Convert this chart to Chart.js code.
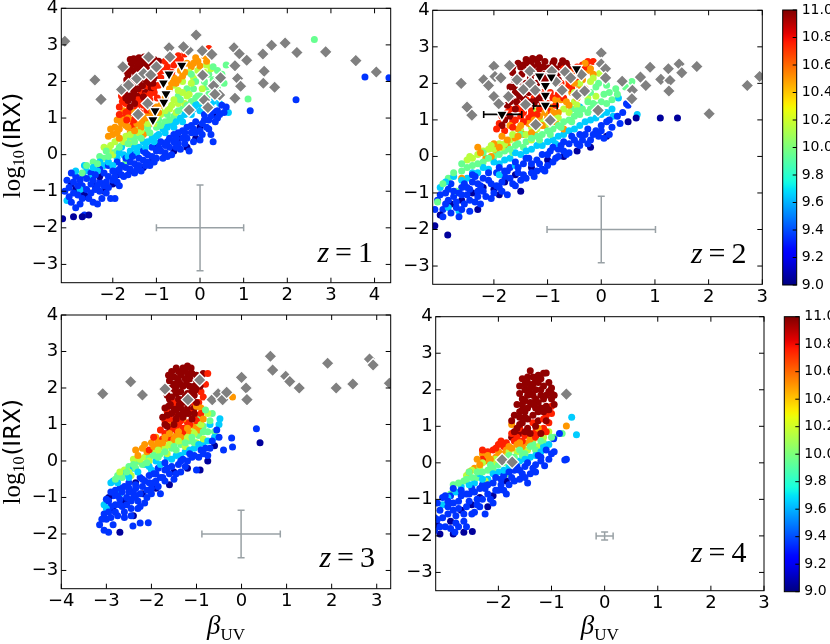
<!DOCTYPE html>
<html>
<head>
<meta charset="utf-8">
<script src="https://cdn.jsdelivr.net/npm/chart.js@4.4.1/dist/chart.umd.min.js"></script>
<style>
  body { margin: 0; background: #fff; }
  #wrap { position: relative; width: 830px; height: 644px; }
  #wrap canvas { position: absolute; left: 0; top: 0; }
</style>
</head>
<body>
<div id="wrap">
  <canvas id="p1" width="830" height="644"></canvas>
  <canvas id="p2" width="830" height="644"></canvas>
  <canvas id="p3" width="830" height="644"></canvas>
  <canvas id="p4" width="830" height="644"></canvas>
  <canvas id="cb1" width="830" height="644"></canvas>
  <canvas id="cb2" width="830" height="644"></canvas>
</div>
<script>
// stellar mass of each colour group (log M*), low to high
const massLevels = [9.05, 9.35, 9.65, 9.95, 10.15, 10.5, 10.75, 10.97];

// tick labels
const yTicks = [-3, -2, -1, 0, 1, 2, 3, 4];
const xTicksZ1 = [-2, -1, 0, 1, 2, 3, 4];
const xTicksZ2 = [-2, -1, 0, 1, 2, 3];
const xTicksZ3 = [-4, -3, -2, -1, 0, 1, 2, 3];
const xTicksZ4 = [-2, -1, 0, 1, 2, 3];
const cbTicks = [9.0, 9.2, 9.4, 9.6, 9.8, 10.0, 10.2, 10.4, 10.6, 10.8, 11.0];

// simulated galaxies [beta, log IRX], one list per mass group
const galZ1 = [
  [[-3.15,-1.75],[-2.95,-0.8],[-2.85,-0.95],[-2.75,-1.0],[-2.6,-1.15],[-2.9,-1.7],[-2.65,-1.1],[-2.4,-0.85],[-2.2,-1.0],[-1.9,-0.55],[-1.6,-0.45],[-1.3,-0.35],[-1.1,-0.15],[-0.8,0.0],[-0.6,0.1],[-0.3,0.2],[0.0,0.75],[-0.1,0.45],[-2.3,-0.6],[-1.0,0.3],[-0.5,0.45],[0.3,1.1],[-2.0,-0.8],[-2.55,-1.65],[-2.7,-1.7]],
  [[-3.1,-1.0],[-3.05,-0.7],[-3.0,-0.9],[-2.9,-0.75],[-2.9,-1.05],[-2.85,-1.45],[-2.85,-0.6],[-2.7,-0.55],[-2.7,-0.85],[-2.7,-1.2],[-2.65,-1.65],[-2.5,-0.5],[-2.5,-0.8],[-2.5,-1.05],[-2.45,-1.3],[-2.3,-0.4],[-2.3,-0.75],[-2.3,-1.0],[-2.35,-1.35],[-2.25,-1.2],[-2.1,-0.3],[-2.1,-0.6],[-2.1,-0.9],[-2.05,-1.2],[-1.9,-0.2],[-1.9,-0.45],[-1.9,-0.75],[-1.95,-1.2],[-1.7,-0.1],[-1.7,-0.35],[-1.75,-0.6],[-1.5,0.0],[-1.5,-0.25],[-1.5,-0.5],[-1.3,0.1],[-1.3,-0.15],[-1.35,-0.45],[-1.1,0.2],[-1.1,-0.05],[-1.15,-0.3],[-0.9,0.35],[-0.9,0.1],[-0.85,-0.1],[-0.7,0.45],[-0.7,0.2],[-0.65,0.0],[-0.5,0.6],[-0.5,0.3],[-0.45,0.15],[-0.3,0.75],[-0.3,0.45],[-0.25,0.1],[-0.1,0.9],[-0.1,0.6],[0.0,0.4],[0.1,0.95],[0.15,0.75],[0.1,1.1],[0.3,1.2],[0.35,0.9],[0.3,0.35],[0.5,1.35],[0.45,1.1],[0.6,1.3],[1.15,1.2],[2.2,1.5],[3.78,2.12],[4.33,2.1],
   [-3.0,-1.15],[-2.95,-0.5],[-2.8,-0.85],[-2.75,-0.7],[-2.6,-0.65],[-2.6,-0.95],[-2.4,-0.55],[-2.4,-0.95],[-2.2,-0.5],[-2.2,-0.85],[-2.0,-0.45],[-2.0,-0.7],[-1.8,-0.3],[-1.8,-0.55],[-1.6,-0.2],[-1.6,-0.4],[-1.4,-0.1],[-1.4,-0.3],[-1.2,0.0],[-1.2,-0.2],[-1.0,0.1],[-1.0,-0.1],[-0.8,0.25],[-0.8,0.05],[-0.6,0.35],[-0.6,0.55],[-0.4,0.45],[-0.4,0.65],[-0.2,0.6],[-0.2,0.8],[0.0,0.65],[0.2,0.95],[0.4,1.2],[0.25,0.55],
   [-2.95,-1.3],[-2.8,-1.1],[-2.75,-1.35],[-2.55,-1.2],[-2.45,-0.7],[-2.35,-0.85],[-2.15,-0.75],[-2.15,-1.05],[-1.95,-0.6],[-1.85,-0.4],[-1.85,-0.85],[-1.65,-0.55],[-1.55,-0.05],[-1.45,-0.4],[-1.25,-0.3],[-1.25,0.05],[-1.05,-0.2],[-0.95,0.2],[-0.75,-0.05],[-0.75,0.35],[-0.55,0.2],[-0.55,0.45],[-0.35,0.3],[-0.35,0.6],[-0.15,0.35],[-0.15,0.7],[0.05,0.55],[0.05,0.85],[0.25,1.05],[0.2,0.7],[0.4,1.0],[0.55,1.15]],
  [[-3.05,-1.25],[-2.6,-0.45],[-2.2,-0.3],[-1.9,-0.1],[-1.6,0.1],[-1.4,0.2],[-1.2,0.35],[-1.0,0.5],[-0.8,0.6],[-0.6,0.75],[-0.4,0.9],[-0.2,1.1],[0.0,1.2],[0.2,1.4],[0.4,1.55],[0.65,1.15],[-2.75,-0.95],[-1.8,0.2],[-0.1,1.35],
   [-2.5,-0.65],[-2.35,-0.45],[-2.1,-0.2],[-1.75,0.0],[-1.5,0.2],[-1.3,0.35],[-1.1,0.45],[-0.85,0.7],[-0.65,0.85],[-0.45,1.0],[-0.25,1.25],[-0.05,1.4],[0.15,1.55],[0.3,1.45],
   [-2.85,-0.45],[-2.65,-0.3],[-2.45,-0.35],[-2.3,-0.2],[-2.0,-0.3],[-1.85,0.05],[-1.65,-0.05],[-1.45,0.05],[-1.25,0.2],[-1.05,0.35],[-0.95,0.55],[-0.75,0.75],[-0.55,0.9],[-0.35,1.1],[-0.15,1.25],[0.05,1.3],[0.25,1.3],[0.45,1.4]],
  [[-2.45,-0.2],[-2.2,-0.1],[-2.0,0.05],[-1.8,0.25],[-1.6,0.4],[-1.45,0.5],[-1.25,0.6],[-1.0,0.75],[-0.8,0.9],[-0.6,1.05],[-0.4,1.25],[-0.2,1.45],[0.0,1.6],[0.15,1.85],[0.3,2.05],[0.4,2.3],[0.6,2.45],[0.2,2.2],[-0.1,2.0],[-0.3,1.8],[-0.5,1.6],[1.1,1.52],[2.62,3.15],[0.55,1.95],[-2.7,-0.5],[-1.7,-0.2],
   [-2.3,-0.05],[-1.9,0.1],[-1.55,0.5],[-1.2,0.75],[-0.95,0.95],[-0.75,1.1],[-0.45,1.5],[-0.15,1.8],[0.1,2.0],[0.3,1.75],[0.45,2.0],[-0.05,1.6],
   [-2.6,-0.3],[-2.35,-0.25],[-2.1,-0.05],[-2.15,0.1],[-1.85,0.2],[-1.65,0.3],[-1.5,0.35],[-1.35,0.45],[-1.15,0.6],[-0.9,0.8],[-0.7,0.95],[-0.5,1.2],[-0.3,1.35],[-0.1,1.55],[0.05,1.45],[0.2,1.65],[0.4,1.8],[0.5,2.2],[0.3,2.4],[0.05,2.15],[-0.2,2.2]],
  [[-2.2,0.2],[-1.95,0.35],[-1.7,0.5],[-1.5,0.7],[-1.3,0.8],[-1.1,0.95],[-0.9,1.1],[-0.7,1.25],[-0.5,1.4],[-0.3,1.6],[-0.15,2.1],[-0.05,2.3],[-0.4,2.0],[-0.6,1.9],[0.05,1.8],[-2.0,0.0],[-1.6,0.3],[0.25,2.35],
   [-2.1,0.15],[-1.75,0.35],[-1.35,0.65],[-1.05,0.85],[-0.65,1.35],[-0.35,1.4],[-0.25,1.65],[-0.55,1.15],
   [-2.05,0.25],[-1.85,0.45],[-1.6,0.55],[-1.4,0.6],[-1.2,0.85],[-1.0,1.0],[-0.8,1.2],[-0.6,1.5],[-0.4,1.7],[-0.2,1.95],[0.1,2.25],[-0.25,2.25],[-0.5,1.75],[0.15,2.45]],
  [[-2.0,0.55],[-1.85,0.7],[-1.7,0.8],[-1.55,0.95],[-1.4,1.0],[-1.2,1.1],[-1.9,0.95],[-1.6,0.6],[-1.3,0.55],[-0.6,2.1],[-0.45,2.3],[-0.3,2.5],[-0.05,2.55],[0.1,2.7],[-0.7,1.8],[-1.75,1.2],[-1.0,1.3],
   [-1.95,0.75],[-1.8,0.85],[-1.65,0.75],[-1.45,0.85],[-1.35,0.75],[-1.15,0.85],[-1.05,1.05],[-0.9,1.35],[-0.55,1.95],[-0.4,2.15],[-0.2,2.4],[0.0,2.42],[-2.1,0.5],[-1.85,0.45],
   [-2.05,0.7],[-1.9,0.6],[-1.75,0.95],[-1.65,1.0],[-1.5,0.65],[-1.5,1.15],[-1.35,0.9],[-1.25,1.0],[-1.1,1.2],[-0.95,1.15],[-0.8,1.55],[-0.65,1.95],[-0.5,2.05],[-0.35,2.25],[-0.15,2.5],[-0.1,2.65],[0.15,2.55]],
  [[-1.75,1.0],[-1.6,1.15],[-1.45,1.25],[-1.3,1.35],[-1.15,1.5],[-1.7,1.4],[-1.5,1.55],[-1.35,1.7],[-1.2,1.85],[-1.05,1.7],[-0.95,1.9],[-0.9,2.1],[-1.0,2.35],[-0.75,2.4],[-0.55,2.55],[-1.55,0.8],[-1.3,0.95],[-1.8,1.6],[0.2,2.9],[-0.35,2.75],
   [-1.62,1.25],[-1.48,1.05],[-1.38,1.15],[-1.22,1.22],[-1.12,1.2],[-1.4,1.4],[-1.25,1.45],[-0.98,1.55],[-0.85,2.3],[-0.65,2.25],[-0.6,2.45],[-0.45,2.6],[-1.7,1.15],[-1.52,0.95],
   [-1.85,1.3],[-1.78,1.45],[-1.68,0.95],[-1.42,1.5],[-1.28,1.6],[-1.15,1.65],[-1.05,1.85],[-0.95,2.25],[-0.8,2.55],[-0.7,2.6],[-0.5,2.7],[-1.85,1.1]],
  [[-1.75,1.65],[-1.7,1.9],[-1.6,2.05],[-1.5,1.85],[-1.4,2.0],[-1.3,2.15],[-1.2,2.3],[-1.1,2.45],[-1.3,2.5],[-1.5,2.55],[-1.55,2.3],[-1.65,2.2],[-1.45,1.6],[-1.25,1.7],[-1.05,2.1],[-1.6,2.6],[-1.4,2.65],[-1.15,2.65],[-0.95,2.55],[-1.75,2.35],[-1.35,1.45],[-1.6,1.3],[-1.2,2.0],
   [-1.72,1.75],[-1.62,1.6],[-1.52,1.72],[-1.42,1.8],[-1.32,1.88],[-1.22,1.58],[-1.12,1.82],[-1.08,2.25],[-1.18,2.15],[-1.28,2.35],[-1.38,2.3],[-1.48,2.15],[-1.58,2.45],[-1.68,2.05],[-1.45,2.4],[-1.35,2.6],[-1.25,2.55],[-1.02,2.4],[-1.65,1.48],[-1.5,1.4],[-1.15,1.35],
   [-1.78,1.85],[-1.7,2.3],[-1.62,2.35],[-1.55,1.95],[-1.45,2.25],[-1.35,2.2],[-1.25,2.05],[-1.15,1.95],[-1.08,1.95],[-1.3,2.4],[-1.2,2.45],[-1.4,2.5],[-1.52,2.62],[-1.28,2.67],[-1.05,2.6],[-1.7,1.55],[-1.3,1.58],[-1.55,1.55]]
];

const galZ2 = [
  [[-3.1,-1.9],[-2.86,-2.15],[-3.0,-1.6],[-2.8,-1.3],[-2.6,-1.2],[-2.4,-1.0],[-2.2,-0.85],[-2.0,-0.9],[-1.8,-0.7],[-1.5,-0.95],[-1.6,-0.5],[-1.3,-0.3],[-1.0,-0.1],[-0.7,0.0],[-0.45,0.15],[-0.2,0.25],[0.1,0.55],[0.5,0.95],[0.65,1.05],[1.1,1.05],[1.42,1.05],[-2.3,-1.45],[-1.9,-1.05]],
  [[-3.05,-1.2],[-2.95,-1.45],[-2.9,-1.0],[-2.8,-0.75],[-2.75,-1.1],[-2.7,-1.4],[-2.6,-0.85],[-2.55,-1.3],[-2.5,-1.05],[-2.4,-0.7],[-2.35,-1.25],[-2.3,-0.95],[-2.2,-0.6],[-2.15,-1.1],[-2.05,-0.75],[-1.95,-0.45],[-1.9,-0.85],[-1.8,-0.55],[-1.7,-0.3],[-1.65,-0.75],[-1.55,-0.45],[-1.45,-0.2],[-1.4,-0.6],[-1.3,-0.45],[-1.2,-0.1],[-1.1,-0.35],[-1.0,0.05],[-0.9,-0.15],[-0.8,0.2],[-0.7,0.4],[-0.6,0.1],[-0.5,0.45],[-0.4,0.3],[-0.3,0.6],[-0.2,0.45],[-0.1,0.7],[0.0,0.85],[0.05,0.5],[0.2,0.8],[0.5,1.4],[-2.65,-1.65],[-2.45,-1.5],[-1.75,-1.05],[-2.25,-1.3],
   [-2.95,-1.65],[-2.85,-1.2],[-2.85,-0.9],[-2.65,-1.0],[-2.55,-0.75],[-2.45,-0.9],[-2.35,-0.55],[-2.25,-0.8],[-2.1,-0.45],[-2.0,-1.0],[-1.85,-0.7],[-1.75,-0.4],[-1.6,-0.15],[-1.5,-0.65],[-1.35,-0.05],[-1.25,-0.55],[-1.15,-0.2],[-1.05,-0.4],[-0.95,0.15],[-0.85,-0.05],[-0.75,0.3],[-0.65,0.05],[-0.55,0.55],[-0.35,0.45],[-0.15,0.6],[0.1,0.95],[0.3,1.1],[0.47,1.44],
   [-3.1,-1.45],[-3.0,-1.05],[-2.9,-1.3],[-2.8,-1.55],[-2.75,-0.95],[-2.7,-1.25],[-2.6,-1.05],[-2.6,-1.45],[-2.5,-0.85],[-2.45,-1.2],[-2.4,-0.5],[-2.3,-0.75],[-2.3,-1.1],[-2.2,-0.95],[-2.1,-0.65],[-2.05,-1.15],[-1.95,-0.8],[-1.9,-0.3],[-1.85,-0.95],[-1.8,-0.4],[-1.7,-0.6],[-1.6,-0.8],[-1.55,-0.3],[-1.45,-0.5],[-1.4,-0.05],[-1.3,-0.2],[-1.2,-0.4],[-1.1,0.05],[-1.0,-0.25],[-0.9,0.25],[-0.8,0.0],[-0.7,0.15],[-0.6,0.35],[-0.45,0.35],[-0.4,0.6],[-0.25,0.35],[-0.25,0.75],[-0.05,0.55],[0.0,0.7],[0.15,0.6],[0.15,1.0],[0.35,0.9],[0.4,1.2]],
  [[-3.0,-0.85],[-2.65,-1.5],[-2.5,-0.6],[-2.3,-0.45],[-2.1,-0.35],[-1.9,-0.2],[-1.7,-0.05],[-1.5,0.05],[-1.3,0.2],[-1.1,0.3],[-0.9,0.45],[-0.7,0.6],[-0.5,0.75],[-0.3,0.95],[-0.1,1.05],[0.1,1.2],[0.32,1.6],[0.67,1.15],[-2.75,-0.55],[-0.4,1.35],[-1.6,-0.25],[0.22,1.1],
   [-2.9,-0.7],[-2.85,-1.4],[-2.6,-0.65],[-2.4,-0.45],[-2.2,-0.3],[-2.0,-0.15],[-1.8,-0.1],[-1.6,0.1],[-1.4,0.15],[-1.2,0.3],[-1.0,0.4],[-0.8,0.55],[-0.6,0.7],[-0.4,0.85],[-0.2,1.0],[0.0,1.15],[0.2,1.3],[-0.85,0.35],[-1.9,-0.5]],
  [[-3.05,-1.25],[-2.85,-0.6],[-2.6,-0.4],[-2.4,-0.25],[-2.2,-0.15],[-2.0,0.0],[-1.8,0.15],[-1.6,0.3],[-1.4,0.4],[-1.2,0.55],[-1.0,0.7],[-0.8,0.85],[-0.6,1.0],[-0.4,1.15],[-0.2,1.3],[0.0,1.5],[0.15,1.75],[0.27,1.85],[-0.1,1.9],[-0.3,1.7],[0.57,2.05],[-0.55,1.3],[-2.7,-0.95],[-1.5,0.6],
   [-2.6,-0.2],[-2.2,0.1],[-1.65,0.1],[-1.45,0.25],[-1.1,0.6],[-0.9,0.75],[-0.7,0.95],[-0.5,1.1],[-0.35,1.3],[-0.15,1.45],[0.05,1.7],[0.2,1.55],[-0.05,1.25],[-0.25,1.5],
   [-2.95,-0.75],[-2.75,-0.45],[-2.5,-0.3],[-2.3,-0.2],[-2.1,-0.05],[-1.9,0.05],[-1.7,0.2],[-1.55,0.35],[-1.3,0.5],[-1.15,0.45],[-0.95,0.6],[-0.75,0.8],[-0.55,0.95],[-0.45,1.25],[-0.25,1.2],[-0.1,1.4],[0.1,1.45],[0.3,1.7],[0.1,1.95],[-0.05,2.0],[-0.2,1.75],[0.45,1.9]],
  [[-2.3,0.05],[-2.1,0.2],[-1.9,0.35],[-1.7,0.45],[-1.5,0.7],[-1.3,0.8],[-1.1,0.95],[-0.9,1.1],[-0.7,1.3],[-0.5,1.5],[-0.3,1.75],[-0.2,2.05],[-0.35,2.3],[-0.03,2.27],[-0.6,1.95],[-2.5,-0.1],[-1.2,1.25],
   [-2.4,-0.05],[-2.0,0.2],[-1.8,0.35],[-1.3,0.45],
   [-2.45,0.0],[-2.2,0.15],[-2.05,0.3],[-1.85,0.25],[-1.65,0.6],[-1.4,0.6],[-1.2,0.75],[-1.0,0.9],[-0.8,1.05],[-0.6,1.2],[-0.45,1.4],[-0.25,1.6],[-0.1,1.65],[-0.4,2.0],[-0.15,2.15],[-0.5,1.75]],
  [[-2.15,-0.05],[-1.95,0.1],[-1.75,0.3],[-1.6,0.5],[-1.45,0.6],[-1.25,0.65],[-1.05,0.85],[-0.85,0.95],[-1.4,0.95],[-1.15,1.1],[-0.95,1.35],[-0.75,1.55],[-0.55,1.75],[-0.4,1.9],[-0.35,2.1],[-0.25,2.35],[-0.55,2.2],[-2.6,-0.6],[-1.7,0.85],[-0.7,0.75],
   [-2.0,0.35],[-1.85,0.55],[-1.55,0.75],[-1.35,0.9],[-1.2,0.95],[-1.0,1.05],[-0.8,1.2],[-0.6,1.4],[-0.45,1.6],[-0.3,1.85],[-0.15,2.25],[-2.3,0.25],
   [-2.25,0.1],[-2.05,0.0],[-1.9,0.25],[-1.75,0.45],[-1.55,0.55],[-1.5,0.85],[-1.3,0.65],[-1.25,1.0],[-1.1,0.85],[-1.05,1.2],[-0.9,1.2],[-0.85,1.55],[-0.65,1.5],[-0.65,1.85],[-0.5,2.0],[-0.4,2.2],[-0.2,2.4],[-0.3,2.55],[-0.6,2.3]],
  [[-1.8,0.7],[-1.65,0.95],[-1.5,1.1],[-1.3,1.25],[-1.1,1.45],[-0.9,1.6],[-0.75,1.8],[-0.6,2.05],[-0.45,2.25],[-0.25,2.6],[-0.7,2.4],[-1.4,1.55],[-1.2,1.7],[-1.55,1.45],[-0.85,2.2],[-1.05,1.95],
   [-1.9,0.9],[-1.75,1.2],[-1.6,1.0],[-1.45,1.2],[-1.35,1.05],[-1.2,1.15],[-1.0,1.25],[-0.85,1.4],[-0.7,1.6],[-0.55,1.85],[-0.42,2.05],[-0.5,2.4],[-0.65,2.25],[-0.28,2.45],
   [-1.95,0.75],[-1.85,1.1],[-1.7,1.3],[-1.65,0.8],[-1.5,1.3],[-1.45,0.95],[-1.4,1.4],[-1.3,1.15],[-1.25,1.6],[-1.15,1.3],[-1.1,1.75],[-1.0,1.45],[-0.95,1.75],[-0.8,1.7],[-0.75,2.0],[-0.6,1.95],[-0.55,2.15],[-0.45,2.45],[-0.35,2.5],[-0.15,2.6]],
  [[-1.7,1.5],[-1.6,1.75],[-1.55,2.05],[-1.65,2.3],[-1.5,2.45],[-1.35,2.55],[-1.2,2.65],[-1.05,2.6],[-0.9,2.55],[-0.75,2.5],[-1.3,2.3],[-1.15,2.4],[-1.4,2.0],[-1.25,1.85],[-1.1,2.1],[-0.95,2.3],[-1.45,1.6],[-1.7,1.1],[-1.8,1.0],[-1.25,1.45],[-0.8,2.1],[-1.15,2.7],[-1.85,0.85],
   [-1.62,1.9],[-1.52,1.65],[-1.48,2.25],[-1.38,2.35],[-1.28,2.45],[-1.18,2.52],[-1.08,2.45],[-0.98,2.42],[-0.85,2.4],[-1.32,2.15],[-1.2,2.0],[-1.05,2.25],[-1.35,1.75],[-1.15,1.6],[-1.6,1.3],[-1.42,1.35],[-1.3,1.5],[-1.55,2.55],[-1.4,2.65],[-1.28,2.68],[-0.72,2.62],[-0.62,2.45],
   [-1.75,1.4],[-1.68,1.65],[-1.62,2.1],[-1.58,1.5],[-1.45,1.9],[-1.45,2.5],[-1.35,1.95],[-1.3,2.6],[-1.22,2.3],[-1.12,2.2],[-1.0,2.1],[-0.92,2.2],[-0.88,2.62],[-0.8,2.3],[-0.65,2.55],[-1.5,1.8],[-1.4,1.5],[-1.2,1.55],[-1.65,2.45],[-1.7,1.9]]
];

const galZ3 = [
  [[-2.7,-1.95],[-2.4,-1.5],[-2.85,-1.35],[-2.6,-1.1],[-2.2,-0.9],[-1.9,-0.75],[-1.6,-0.65],[-1.5,-0.3],[-1.2,-0.2],[-0.92,-0.25],[-0.6,0.42],[0.41,0.5],[-0.75,0.0],[-2.95,-1.0],[-2.35,-0.6]],
  [[-3.15,-1.75],[-3.05,-1.9],[-2.95,-1.95],[-3.0,-1.6],[-2.9,-1.25],[-2.85,-0.95],[-2.75,-1.5],[-2.7,-0.75],[-2.65,-1.25],[-2.55,-1.0],[-2.5,-0.6],[-2.45,-1.3],[-2.4,-0.85],[-2.3,-1.1],[-2.25,-0.45],[-2.2,-0.7],[-2.1,-1.0],[-2.05,-0.4],[-2.0,-0.75],[-1.9,-0.55],[-1.85,-0.2],[-1.75,-0.45],[-1.7,-0.05],[-1.6,-0.35],[-1.4,-0.1],[-1.3,0.05],[-1.1,0.1],[-1.0,-0.25],[-0.85,0.2],[-0.7,0.35],[-0.55,0.85],[-0.4,0.3],[-0.22,0.63],[-0.2,0.38],[0.33,0.88],[-2.25,-1.7],[-1.8,-0.9],[-2.41,-1.78],[-2.07,-1.69],
   [-3.05,-1.45],[-2.95,-1.1],[-2.9,-1.55],[-2.8,-0.8],[-2.8,-1.2],[-2.7,-1.05],[-2.6,-0.7],[-2.6,-1.4],[-2.5,-0.85],[-2.45,-1.1],[-2.35,-0.65],[-2.35,-0.95],[-2.25,-1.25],[-2.15,-0.55],[-2.1,-0.8],[-1.95,-0.35],[-1.95,-0.6],[-1.8,-0.45],[-1.65,-0.2],[-1.5,-0.5],[-1.35,-0.3],[-1.2,0.0],[-1.05,0.15],[-0.9,0.3],[-0.65,0.55],[-0.5,0.65],
   [-3.1,-1.6],[-3.0,-1.05],[-2.95,-1.4],[-2.9,-0.85],[-2.85,-1.75],[-2.8,-1.4],[-2.75,-0.95],[-2.7,-1.2],[-2.65,-0.85],[-2.6,-1.55],[-2.55,-1.2],[-2.5,-0.75],[-2.45,-1.5],[-2.4,-1.0],[-2.35,-0.75],[-2.3,-1.3],[-2.25,-0.9],[-2.2,-0.5],[-2.15,-1.15],[-2.05,-0.6],[-2.0,-0.9],[-1.9,-0.35],[-1.85,-0.7],[-1.7,-0.55],[-1.7,-0.25],[-1.55,-0.15],[-1.45,-0.35],[-1.35,0.0],[-1.25,-0.15],[-1.15,0.2],[-0.95,0.1],[-0.8,0.35],[-0.75,0.15]],
  [[-2.85,-0.55],[-2.6,-0.35],[-2.4,-0.2],[-2.15,-0.1],[-1.9,0.0],[-1.65,0.1],[-1.45,0.15],[-1.25,0.25],[-1.05,0.35],[-0.85,0.5],[-0.48,1.16],[-0.7,1.0],[-2.7,-0.9],[-2.0,-0.25],[-3.0,-1.3],
   [-3.05,-1.2],[-2.9,-0.6],[-2.75,-0.6],[-2.5,-0.45],[-2.3,-0.3],[-2.05,-0.15],[-1.8,-0.1],[-1.55,0.05],[-1.35,0.15],[-1.15,0.3],[-0.95,0.45],[-0.75,0.55],[-0.6,0.65],[-0.5,1.0]],
  [[-2.75,-0.4],[-2.5,-0.15],[-2.3,0.0],[-2.05,0.1],[-1.8,0.2],[-1.55,0.35],[-1.35,0.45],[-1.15,0.55],[-0.95,0.7],[-0.85,0.95],[-0.65,1.3],[-0.6,0.8],[-0.9,1.2],
   [-2.65,-0.45],[-2.35,-0.2],[-2.2,-0.1],[-1.85,0.1],[-1.45,0.3],[-1.05,0.5],[-0.75,0.8],
   [-2.8,-0.5],[-2.55,-0.3],[-2.4,-0.1],[-2.1,-0.05],[-1.95,0.15],[-1.7,0.25],[-1.5,0.4],[-1.25,0.5],[-1.1,0.65],[-0.85,0.8],[-0.7,1.1],[-0.8,1.4]],
  [[-2.6,-0.25],[-2.35,-0.05],[-2.15,0.1],[-1.95,0.25],[-1.7,0.35],[-1.5,0.5],[-1.3,0.55],[-1.1,0.8],[-0.95,1.05],[-2.45,-0.4],[-1.0,0.5],
   [-2.5,-0.3],[-2.05,0.0],[-1.65,0.2],[-1.25,0.4],[-0.85,0.6],
   [-2.7,-0.3],[-2.4,0.05],[-2.25,0.05],[-1.85,0.3],[-1.6,0.45],[-1.4,0.55],[-1.2,0.65],[-1.05,0.75],[-0.9,1.0],[-0.75,1.3]],
  [[-2.2,0.35],[-2.0,0.5],[-1.8,0.4],[-1.65,0.6],[-1.45,0.7],[-1.25,0.85],[-1.05,0.95],[-0.9,1.45],[-0.2,1.75],[-1.9,0.65],[-1.55,0.45],[-1.6,1.05],[-1.3,1.15],
   [-2.1,0.25],[-1.95,0.4],[-1.75,0.5],[-1.5,0.6],[-1.35,0.65],[-1.15,0.75],[-0.95,0.85],[-2.3,0.15],
   [-2.35,0.3],[-2.15,0.45],[-1.85,0.5],[-1.7,0.65],[-1.6,0.75],[-1.4,0.8],[-1.2,0.9],[-1.1,1.25],[-0.85,1.15],[-1.0,1.5]],
  [[-1.85,0.55],[-1.7,0.75],[-1.55,0.9],[-1.4,1.0],[-1.2,1.05],[-1.0,1.25],[-0.95,1.6],[-0.8,2.1],[-1.65,1.35],[-1.45,1.25],[-1.15,1.4],[-1.3,0.75],[-1.5,1.6],[-2.05,0.3],
   [-1.75,0.6],[-1.6,0.65],[-1.45,0.85],[-1.3,0.9],[-1.15,1.0],[-1.0,1.1],[-0.9,1.3],[-0.85,1.75],
   [-1.95,0.65],[-1.8,0.85],[-1.7,1.1],[-1.6,1.15],[-1.35,1.1],[-1.1,1.3],[-1.05,1.6],[-0.9,1.9],[-0.75,2.4]],
  [[-1.6,0.8],[-1.55,1.1],[-1.5,1.45],[-1.6,1.7],[-1.55,2.0],[-1.5,2.3],[-1.4,2.45],[-1.3,2.55],[-1.2,2.6],[-1.1,2.4],[-1.0,2.2],[-0.95,1.95],[-0.85,2.4],[-1.05,1.8],[-1.15,2.05],[-1.25,2.25],[-1.35,2.1],[-1.45,1.85],[-1.3,1.6],[-1.15,1.6],[-1.25,1.3],[-1.4,1.25],[-1.05,1.45],[-1.35,1.9],[-1.2,1.85],[-1.5,1.0],[-1.7,1.0],[-1.65,1.25],[-1.1,1.15],[-1.4,2.2],
   [-1.62,1.5],[-1.55,1.75],[-1.5,2.1],[-1.45,2.05],[-1.4,1.7],[-1.35,2.35],[-1.3,2.05],[-1.25,1.75],[-1.2,2.4],[-1.15,2.25],[-1.1,1.9],[-1.05,2.05],[-1.0,2.35],[-0.95,2.1],[-1.1,1.7],[-1.2,1.45],[-1.35,1.45],[-1.45,1.15],[-1.3,1.2],[-1.55,1.3],[-1.65,0.95],[-0.9,2.3],[-1.25,2.5],[-1.45,2.55],[-1.6,2.2],
   [-1.7,1.45],[-1.65,1.8],[-1.62,2.35],[-1.58,1.55],[-1.45,1.4],[-1.42,2.25],[-1.38,1.55],[-1.28,1.7],[-1.22,2.1],[-1.18,1.3],[-1.12,2.55],[-1.02,1.95],[-1.0,1.6],[-0.92,2.05],[-1.32,2.45],[-1.48,1.95],[-1.55,2.45],[-1.75,1.2],[-1.3,1.35],[-1.05,1.3]]
];

const galZ4 = [
  [[-3.1,-1.95],[-2.85,-1.95],[-2.65,-1.9],[-2.9,-1.6],[-2.7,-1.3],[-2.5,-1.15],[-2.35,-0.95],[-2.1,-0.9],[-2.49,-1.88],[-3.15,-1.7],[-2.2,-1.2],[-1.85,-0.5]],
  [[-3.2,-1.5],[-3.1,-1.3],[-3.0,-1.75],[-2.95,-1.2],[-2.9,-0.9],[-2.8,-1.45],[-2.75,-1.05],[-2.6,-0.85],[-2.65,-1.4],[-2.5,-0.7],[-2.45,-1.35],[-2.4,-1.0],[-2.3,-0.6],[-2.2,-0.85],[-2.1,-0.55],[-2.0,-0.75],[-1.9,-0.35],[-1.8,-0.6],[-1.7,-0.2],[-1.6,-0.45],[-1.5,-0.1],[-1.45,-0.55],[-1.3,-0.05],[-1.2,0.05],[-1.13,-0.08],[-1.0,0.25],[-0.96,0.66],[-0.85,0.8],[-0.75,0.08],[-0.72,0.1],[-2.75,-1.75],[-3.2,-1.85],[-3.0,-0.9],[-2.82,-1.9],
   [-3.15,-1.1],[-3.05,-1.5],[-2.95,-1.05],[-2.85,-1.3],[-2.85,-0.7],[-2.7,-0.9],[-2.65,-1.6],[-2.55,-1.05],[-2.45,-0.8],[-2.35,-1.2],[-2.25,-0.7],[-2.15,-1.0],[-2.05,-0.4],[-1.95,-0.6],[-1.85,-0.85],[-1.75,-0.4],[-1.65,-0.1],[-1.55,-0.3],[-1.4,-0.3],[-1.25,0.2],[-1.35,-0.15],[-1.1,0.35],
   [-3.15,-1.55],[-3.1,-1.75],[-3.05,-0.95],[-2.95,-1.4],[-2.9,-1.8],[-2.85,-1.1],[-2.8,-1.65],[-2.75,-1.25],[-2.7,-0.75],[-2.6,-1.2],[-2.6,-1.75],[-2.55,-0.85],[-2.5,-1.4],[-2.4,-1.15],[-2.35,-0.7],[-2.3,-1.0],[-2.25,-1.4],[-2.2,-0.6],[-2.1,-1.1],[-2.05,-0.75],[-1.95,-0.45],[-1.9,-0.75],[-1.8,-0.25],[-1.7,-0.5],[-1.6,-0.2],[-1.5,-0.4],[-1.45,0.0],[-1.3,-0.25],[-1.2,0.15],[-1.05,0.1],[-0.95,0.3]],
  [[-3.05,-1.15],[-2.7,-0.65],[-2.45,-0.55],[-2.2,-0.45],[-2.0,-0.25],[-1.8,-0.1],[-1.6,0.05],[-1.4,0.15],[-1.2,0.3],[-0.62,1.25],[-0.53,0.77],[-2.35,-0.3],[-1.05,0.5],
   [-2.95,-0.95],[-2.8,-0.8],[-2.55,-0.6],[-2.3,-0.45],[-2.1,-0.3],[-1.9,-0.2],[-1.7,-0.05],[-1.5,0.1],[-1.3,0.2],[-1.15,0.45]],
  [[-2.9,-0.85],[-2.65,-0.5],[-2.4,-0.4],[-2.2,-0.2],[-2.0,-0.05],[-1.75,0.1],[-1.55,0.2],[-1.3,0.35],[-1.15,0.55],[-0.95,0.7],[-0.8,0.8],[-2.55,-0.25],[-1.85,-0.3],
   [-2.75,-0.55],[-2.5,-0.4],[-2.3,-0.25],[-2.1,-0.15],[-1.9,0.0],[-1.7,0.15],[-1.5,0.25],[-1.35,0.5],
   [-2.85,-0.6],[-2.6,-0.45],[-2.4,-0.25],[-2.15,-0.05],[-1.95,0.1],[-1.8,0.2],[-1.6,0.35],[-1.4,0.45],[-1.2,0.6],[-1.0,0.7]],
  [[-2.6,-0.35],[-2.35,-0.1],[-2.1,0.0],[-1.9,0.2],[-1.65,0.3],[-1.45,0.35],[-1.25,0.45],[-2.25,-0.5],[-1.05,0.85],
   [-2.5,-0.2],[-2.3,0.0],[-2.05,0.1],[-1.8,0.3],[-1.55,0.4],[-1.35,0.6],[-1.15,0.7]],
  [[-2.45,-0.15],[-2.25,0.05],[-2.05,0.15],[-1.85,0.35],[-1.65,0.5],[-1.45,0.55],[-1.75,1.05],[-0.72,1.01],[-2.3,0.25],[-1.35,0.7],
   [-2.55,-0.25],[-2.35,-0.05],[-2.15,0.1],[-1.95,0.25],[-1.75,0.4],[-1.55,0.45],
   [-2.4,0.1],[-2.2,0.2],[-2.0,0.3],[-1.8,0.45],[-1.6,0.55],[-1.4,0.65],[-1.25,0.95]],
  [[-2.1,0.35],[-1.9,0.45],[-1.7,0.6],[-1.5,0.75],[-1.3,0.85],[-1.15,0.95],[-1.1,1.3],[-1.0,1.55],[-2.3,0.1],[-1.6,0.95],[-1.35,1.1],
   [-2.2,0.3],[-2.0,0.5],[-1.85,0.55],[-1.65,0.7],[-1.55,0.6],[-1.25,0.8],[-1.05,1.1],
   [-2.3,0.35],[-2.05,0.4],[-1.95,0.6],[-1.75,0.8],[-1.45,0.85],[-1.3,0.7],[-1.15,1.2],[-1.0,1.35],[-1.1,0.85]],
  [[-1.95,0.55],[-1.75,0.7],[-1.6,0.8],[-1.55,1.1],[-1.6,1.4],[-1.55,1.75],[-1.5,2.0],[-1.45,2.2],[-1.4,2.52],[-1.3,2.0],[-1.2,1.85],[-1.15,2.1],[-1.1,2.46],[-1.2,1.5],[-1.35,1.3],[-1.4,1.65],[-1.3,1.5],[-1.0,1.75],[-0.95,1.6],[-1.25,2.2],[-1.5,1.4],[-1.7,1.3],[-1.25,1.15],[-1.05,2.2],[-1.35,2.35],[-1.6,2.1],[-1.45,0.95],[-1.2,0.8],
   [-1.65,1.6],[-1.55,1.45],[-1.5,1.7],[-1.45,1.85],[-1.4,2.05],[-1.35,1.85],[-1.3,2.25],[-1.25,1.65],[-1.2,2.0],[-1.15,1.75],[-1.1,1.55],[-1.05,1.95],[-1.45,1.2],[-1.3,1.0],[-1.6,1.05],[-1.5,0.85],[-1.7,0.85],[-1.4,0.8],[-1.1,1.15],[-1.55,2.3],[-1.25,2.4],[-1.0,2.05],[-0.95,1.85],
   [-1.75,1.15],[-1.65,0.95],[-1.6,1.25],[-1.55,1.6],[-1.5,1.25],[-1.5,2.15],[-1.45,1.5],[-1.4,1.9],[-1.35,2.15],[-1.3,1.75],[-1.25,1.4],[-1.2,2.3],[-1.15,1.4],[-1.1,1.85],[-1.05,1.45],[-1.0,1.9],[-1.35,1.6],[-1.15,2.45],[-1.6,1.9],[-1.45,2.35]]
];

// observed galaxies (grey diamonds) [beta, log IRX]
const obsZ1 = [[-3.1,3.1],[-2.41,2.04],[-2.27,1.51],[-1.77,2.4],[-1.18,2.67],[-1.8,1.78],[-1.64,1.9],[-1.45,2.08],[-1.29,2.22],[-1.13,2.18],[-1.0,2.4],[-1.2,1.4],[-1.42,1.1],[-0.71,2.92],[-0.69,2.67],[-0.27,2.86],[-0.09,3.27],[0.05,2.84],[0.27,2.74],[0.06,2.17],[0.1,1.49],[0.18,1.29],[-0.25,1.22],[0.31,1.88],[0.47,2.1],[0.45,1.63],[0.34,1.65],[0.78,2.92],[0.9,2.76],[1.07,2.58],[0.8,2.43],[0.8,1.54],[0.86,2.08],[0.93,1.87],[1.44,2.75],[1.64,2.99],[1.95,3.05],[2.22,2.79],[2.88,2.81],[3.57,2.57],[4.04,2.26],[1.47,2.28],[1.45,1.95],[1.71,1.84],[-0.38,2.95]];
const obsZ2 = [[-2.61,2.0],[-2.5,1.35],[-2.41,1.13],[-2.0,2.47],[-2.19,2.1],[-2.1,1.94],[-1.98,2.19],[-1.87,2.15],[-2.0,1.64],[-1.91,1.44],[-1.71,2.49],[-1.73,1.64],[-1.57,2.1],[-1.33,2.33],[-1.45,1.83],[-1.41,1.42],[-1.32,2.0],[-1.23,1.81],[-1.22,0.87],[-0.95,0.99],[-0.92,2.33],[-0.85,2.05],[-0.73,1.81],[-0.67,2.31],[-0.57,2.15],[-0.45,1.69],[-0.31,1.79],[-0.37,2.24],[0.0,2.83],[0.0,2.53],[0.08,2.4],[0.08,2.15],[-0.06,1.26],[0.39,2.06],[0.58,1.81],[0.57,1.58],[0.73,2.17],[0.83,1.94],[0.91,2.44],[1.11,2.11],[1.25,2.4],[1.28,2.08],[1.26,1.79],[1.45,2.53],[1.5,2.29],[1.78,2.46],[2.01,1.17],[2.72,1.94],[2.95,2.19]];
const obsZ3 = [[-3.08,1.84],[-2.46,2.17],[-2.2,1.81],[-1.7,1.97],[-0.93,2.22],[-1.19,1.68],[-0.65,1.68],[-0.52,1.84],[-0.42,1.68],[-0.33,1.88],[0.0,2.29],[0.1,2.0],[0.12,1.68],[0.64,2.87],[0.69,2.49],[0.98,2.32],[1.07,2.18],[1.28,2.0],[1.91,2.68],[2.1,2.0],[2.47,2.11],[2.84,2.79],[2.92,2.63],[3.28,2.13]];
const obsZ4 = [[-0.72,1.88],[-1.93,0.08],[-1.74,0.02]];

// upper limits (black triangles) [beta, log IRX]
const limZ1 = [[-0.42,2.44],[-0.71,2.2],[-0.84,1.96],[-0.78,1.66],[-0.83,1.43],[-1.03,1.2],[-1.08,0.95]];
const limZ2 = [[-0.46,2.4],[-0.93,2.17],[-1.15,2.2],[-1.04,1.94],[-1.04,1.67],[-1.04,1.4],[-1.85,1.15]];
// horizontal error bars on limits [beta, log IRX, half width]
const limErrZ2 = [[-1.835,1.15,0.355],[-1.04,1.38,0.22]];

// typical error cross [beta, log IRX, beta err, IRX err]
const errZ1 = [0, -2, 1.0, 1.17];
const errZ2 = [0, -2, 1.01, 0.91];
const errZ3 = [-0.01, -2, 0.87, 0.65];
const errZ4 = [0, -2, 0.16, 0.11];

// matplotlib "jet"
const jetR = [[0,0],[0.35,0],[0.66,1],[0.89,1],[1,0.5]];
const jetG = [[0,0],[0.125,0],[0.375,1],[0.64,1],[0.91,0],[1,0]];
const jetB = [[0,0.5],[0.11,1],[0.34,1],[0.65,0],[1,0]];
function seg(pts, t) {
  for (let i = 0; i < pts.length - 1; i++) {
    const [t0, v0] = pts[i], [t1, v1] = pts[i + 1];
    if (t <= t1) return v0 + (v1 - v0) * (t - t0) / (t1 - t0);
  }
  return pts[pts.length - 1][1];
}
function jet(m) {
  const t = Math.min(1, Math.max(0, (m - 9) / 2));
  const c = v => Math.round(255 * v);
  return 'rgb(' + c(seg(jetR, t)) + ',' + c(seg(jetG, t)) + ',' + c(seg(jetB, t)) + ')';
}

Chart.defaults.font.family = "'DejaVu Sans', sans-serif";
Chart.defaults.color = '#000';

function fmtTick(v) {
  return v < 0 ? '\u2212' + Math.abs(v) : '' + v;
}

function drawZLabel(ctx, txt, rx, by) {
  const fi = "italic 30px 'Liberation Serif'", fr = "30px 'Liberation Serif'";
  const gap = 6;
  ctx.font = fi; const wz = ctx.measureText('z').width;
  ctx.font = fr; const we = ctx.measureText('=').width, wn = ctx.measureText(txt).width;
  const x0 = rx - (wz + gap + we + gap + wn);
  ctx.fillStyle = '#000';
  ctx.textAlign = 'left'; ctx.textBaseline = 'alphabetic';
  ctx.font = fi; ctx.fillText('z', x0, by);
  ctx.font = fr;
  ctx.fillText('=', x0 + wz + gap, by);
  ctx.fillText(txt, x0 + wz + gap + we + gap, by);
}

function drawYTitle(ctx, bx, cy) {
  ctx.save();
  ctx.translate(bx, cy);
  ctx.rotate(-Math.PI / 2);
  ctx.fillStyle = '#000';
  ctx.textAlign = 'left'; ctx.textBaseline = 'alphabetic';
  const f1 = "25px 'Liberation Serif'", f2 = "16px 'Liberation Serif'", f3 = "23px 'DejaVu Sans'";
  ctx.font = f1; const w1 = ctx.measureText('log').width;
  ctx.font = f2; const w2 = ctx.measureText('10').width;
  ctx.font = f3; const w3 = ctx.measureText('(IRX)').width;
  const x0 = -(w1 + w2 + w3 + 1) / 2;
  ctx.font = f1; ctx.fillText('log', x0, 0);
  ctx.font = f2; ctx.fillText('10', x0 + w1, 4);
  ctx.font = f3; ctx.fillText('(IRX)', x0 + w1 + w2 + 1, 0);
  ctx.restore();
}

function drawXTitle(ctx, cx, by) {
  const fb = "italic 27px 'Liberation Serif'", fs = "17px 'Liberation Serif'";
  ctx.fillStyle = '#000';
  ctx.textAlign = 'left'; ctx.textBaseline = 'alphabetic';
  ctx.font = fb; const wb = ctx.measureText('\u03B2').width;
  ctx.font = fs; const ws = ctx.measureText('UV').width;
  const x0 = cx - (wb + ws) / 2;
  ctx.font = fb; ctx.fillText('\u03B2', x0, by);
  ctx.font = fs; ctx.fillText('UV', x0 + wb, by + 6);
}

const panels = [
  {id: 'p1', gal: galZ1, obs: obsZ1, lim: limZ1, limErr: [], err: errZ1, xMin: -3.18, xMax: 4.37, xTicks: xTicksZ1,
   rect: [61.3, 8.3, 390.7, 282.7], zText: '1', zPos: [373, 261.5], yTitle: true, xTitle: false},
  {id: 'p2', gal: galZ2, obs: obsZ2, lim: limZ2, limErr: limErrZ2, err: errZ2, xMin: -3.14, xMax: 3.0, xTicks: xTicksZ2,
   rect: [432.7, 10.3, 762.3, 284.3], zText: '2', zPos: [746.5, 263], yTitle: false, xTitle: false},
  {id: 'p3', gal: galZ3, obs: obsZ3, lim: [], limErr: [], err: errZ3, xMin: -4.0, xMax: 3.31, xTicks: xTicksZ3,
   rect: [61.3, 315, 390.7, 588.7], zText: '3', zPos: [375, 566.5], yTitle: true, xTitle: true},
  {id: 'p4', gal: galZ4, obs: obsZ4, lim: [], limErr: [], err: errZ4, xMin: -3.18, xMax: 3.0, xTicks: xTicksZ4,
   rect: [435.7, 316.7, 764, 590.7], zText: '4', zPos: [746.5, 561.5], yTitle: false, xTitle: true}
];

function buildPanel(p) {
  const [L, T, R, B] = p.rect;
  // take the mass groups in turn so the colours overlap in a mixed way
  const pts = [], cols = [];
  const longest = Math.max(...p.gal.map(b => b.length));
  for (let k = 0; k < longest; k++) {
    p.gal.forEach((bin, i) => {
      if (k < bin.length) {
        pts.push({x: bin[k][0], y: bin[k][1]});
        cols.push(jet(massLevels[i]));
      }
    });
  }
  const toXY = arr => arr.map(([x, y]) => ({x: x, y: y}));

  const deco = {
    id: 'deco',
    afterDatasetDraw(chart, args) {
      if (args.index !== 0 || !p.limErr.length) return;
      const {ctx, scales: {x, y}} = chart;
      ctx.save();
      ctx.strokeStyle = '#000';
      ctx.lineWidth = 1.6;
      ctx.beginPath();
      p.limErr.forEach(([bx, by, hw]) => {
        const x0 = x.getPixelForValue(bx - hw), x1 = x.getPixelForValue(bx + hw), yy = y.getPixelForValue(by);
        ctx.moveTo(x0, yy); ctx.lineTo(x1, yy);
        ctx.moveTo(x0, yy - 3.5); ctx.lineTo(x0, yy + 3.5);
        ctx.moveTo(x1, yy - 3.5); ctx.lineTo(x1, yy + 3.5);
      });
      ctx.stroke();
      ctx.restore();
    },
    afterDatasetsDraw(chart) {
      const {ctx, chartArea: a, scales: {x, y}} = chart;
      ctx.save();
      // error cross
      const [cx, cy, ex, ey] = p.err;
      const xc = x.getPixelForValue(cx), yc = y.getPixelForValue(cy);
      const x0 = x.getPixelForValue(cx - ex), x1 = x.getPixelForValue(cx + ex);
      const y0 = y.getPixelForValue(cy - ey), y1 = y.getPixelForValue(cy + ey);
      ctx.strokeStyle = '#99a1a5';
      ctx.lineWidth = 1.5;
      ctx.beginPath();
      ctx.moveTo(x0, yc); ctx.lineTo(x1, yc);
      ctx.moveTo(xc, y0); ctx.lineTo(xc, y1);
      ctx.moveTo(x0, yc - 3.5); ctx.lineTo(x0, yc + 3.5);
      ctx.moveTo(x1, yc - 3.5); ctx.lineTo(x1, yc + 3.5);
      ctx.moveTo(xc - 3.5, y0); ctx.lineTo(xc + 3.5, y0);
      ctx.moveTo(xc - 3.5, y1); ctx.lineTo(xc + 3.5, y1);
      ctx.stroke();
      // frame and inward ticks
      ctx.strokeStyle = '#000';
      ctx.lineWidth = 1;
      ctx.strokeRect(a.left, a.top, a.right - a.left, a.bottom - a.top);
      ctx.beginPath();
      x.ticks.forEach(t => {
        const px = x.getPixelForValue(t.value);
        ctx.moveTo(px, a.bottom); ctx.lineTo(px, a.bottom - 5);
        ctx.moveTo(px, a.top); ctx.lineTo(px, a.top + 5);
      });
      y.ticks.forEach(t => {
        const py = y.getPixelForValue(t.value);
        ctx.moveTo(a.left, py); ctx.lineTo(a.left + 5, py);
        ctx.moveTo(a.right, py); ctx.lineTo(a.right - 5, py);
      });
      ctx.stroke();
      // texts
      drawZLabel(ctx, p.zText, p.zPos[0], p.zPos[1]);
      if (p.yTitle) drawYTitle(ctx, 19.5, (a.top + a.bottom) / 2);
      if (p.xTitle) drawXTitle(ctx, (a.left + a.right) / 2, 634);
      ctx.restore();
    }
  };

  new Chart(document.getElementById(p.id), {
    type: 'scatter',
    data: {
      datasets: [
        {data: pts, pointBackgroundColor: cols, pointBorderWidth: 0, pointRadius: 3.5, order: 3, clip: 0},
        {data: toXY(p.obs), pointStyle: 'rectRot', pointRadius: 6.5, pointBackgroundColor: '#808080',
         pointBorderColor: '#ffffff', pointBorderWidth: 1.3, order: 2, clip: 0},
        {data: toXY(p.lim), pointStyle: 'triangle', pointRotation: 180, pointRadius: 6.5, pointBackgroundColor: '#000',
         pointBorderColor: '#ffffff', pointBorderWidth: 1.4, order: 1, clip: 0}
      ]
    },
    options: {
      responsive: false,
      animation: false,
      events: [],
      layout: {padding: {left: L - 50, top: T, right: 830 - R, bottom: 644 - B - 30}},
      plugins: {legend: {display: false}, tooltip: {enabled: false}},
      scales: {
        x: {
          type: 'linear', min: p.xMin, max: p.xMax,
          grid: {display: false, drawTicks: false}, border: {display: false},
          ticks: {font: {size: 18}, padding: 2, callback: fmtTick},
          afterBuildTicks: s => { s.ticks = p.xTicks.map(v => ({value: v})); },
          afterFit: s => { s.height = 30; s.paddingLeft = 0; s.paddingRight = 0; }
        },
        y: {
          type: 'linear', min: -3.5, max: 4,
          grid: {display: false, drawTicks: false}, border: {display: false},
          ticks: {font: {size: 18}, padding: 3, callback: fmtTick},
          afterBuildTicks: s => { s.ticks = yTicks.map(v => ({value: v})); },
          afterFit: s => { s.width = 50; s.paddingTop = 0; s.paddingBottom = 0; }
        }
      }
    },
    plugins: [deco]
  });
}

function buildColorbar(id, rect) {
  const [L, T, R, B] = rect;
  const bar = {
    id: 'bar',
    beforeDatasetsDraw(chart) {
      const {ctx, chartArea: a, scales: {y}} = chart;
      ctx.save();
      const g = ctx.createLinearGradient(0, y.getPixelForValue(9), 0, y.getPixelForValue(11));
      for (let k = 0; k <= 60; k++) g.addColorStop(k / 60, jet(9 + 2 * k / 60));
      ctx.fillStyle = g;
      ctx.fillRect(a.left, a.top, a.right - a.left, a.bottom - a.top);
      ctx.strokeStyle = '#000';
      ctx.lineWidth = 1;
      ctx.strokeRect(a.left, a.top, a.right - a.left, a.bottom - a.top);
      ctx.beginPath();
      y.ticks.forEach(t => {
        const py = y.getPixelForValue(t.value);
        ctx.moveTo(a.right, py); ctx.lineTo(a.right - 4, py);
      });
      ctx.stroke();
      ctx.restore();
    }
  };
  new Chart(document.getElementById(id), {
    type: 'scatter',
    data: {datasets: []},
    options: {
      responsive: false,
      animation: false,
      events: [],
      layout: {padding: {left: L, top: T, right: 830 - R - 45, bottom: 644 - B}},
      plugins: {legend: {display: false}, tooltip: {enabled: false}},
      scales: {
        x: {display: false, min: 0, max: 1},
        y: {
          position: 'right', min: 9, max: 11,
          grid: {display: false, drawTicks: false}, border: {display: false},
          ticks: {font: {size: 14}, padding: 5, callback: v => v.toFixed(1)},
          afterBuildTicks: s => { s.ticks = cbTicks.map(v => ({value: v})); },
          afterFit: s => { s.width = 45; s.paddingTop = 0; s.paddingBottom = 0; }
        }
      }
    },
    plugins: [bar]
  });
}

panels.forEach(buildPanel);
buildColorbar('cb1', [782.7, 10, 796.7, 285]);
buildColorbar('cb2', [784.3, 316.7, 799.3, 591.7]);
</script>
</body>
</html>
